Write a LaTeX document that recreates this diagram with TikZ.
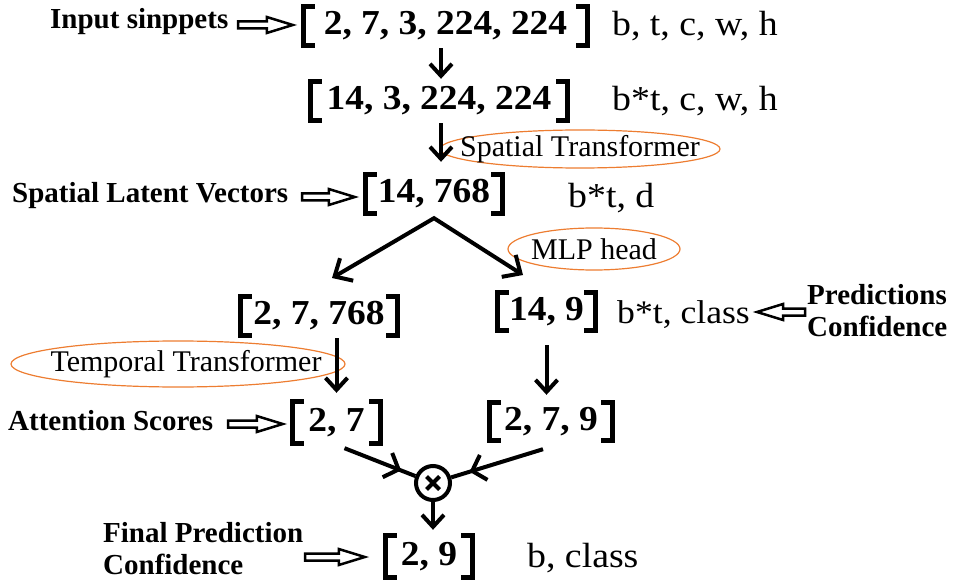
\documentclass[tikz,border=0pt]{standalone}
\usepackage{fontspec}
\setmainfont{Liberation Serif}
\newfontfamily\numfont{Liberation Serif}[FakeStretch=1.07]
\newfontfamily\dimfont{Liberation Serif}[FakeStretch=1.08]
\usetikzlibrary{arrows.meta,shapes.geometric,calc,decorations.markings}
\definecolor{ellc}{RGB}{237,125,49}
\newcommand\tensorbrk[1]{%
  \draw[brk] ([xshift=14pt,yshift=-2.5pt]#1.north west) -- ([xshift=2.5pt,yshift=-2.5pt]#1.north west)
     -- ([xshift=2.5pt,yshift=2.5pt]#1.south west) -- ([xshift=14pt,yshift=2.5pt]#1.south west);
  \draw[brk] ([xshift=-14pt,yshift=-2.5pt]#1.north east) -- ([xshift=-2.5pt,yshift=-2.5pt]#1.north east)
     -- ([xshift=-2.5pt,yshift=2.5pt]#1.south east) -- ([xshift=-14pt,yshift=2.5pt]#1.south east);}
\tikzset{
  tensor/.style={inner sep=0pt, font=\numfont\bfseries\fontsize{35}{38}\selectfont},
  dimtxt/.style={anchor=base west, inner sep=0pt, font=\dimfont\fontsize{35}{38}\selectfont},
  lbl/.style={inner sep=0pt, font=\bfseries\fontsize{29}{32}\selectfont, align=left},
  etxt/.style={inner sep=0pt, font=\fontsize{30}{33}\selectfont},
  ell/.style={ellipse, draw=ellc, line width=1.2pt, inner sep=0pt},
  brk/.style={line width=5pt, line cap=butt, line join=miter},
  arr/.style={line width=4pt, -{Straight Barb[length=12pt,width=22pt]}},
  fork/.style={line width=4pt, line join=miter, {Straight Barb[length=14pt,width=26pt]}-{Straight Barb[length=14pt,width=26pt]}},
  midarr/.style={line width=4pt, postaction={decorate},
    decoration={markings, mark=at position 0.8 with {\arrow{Straight Barb[length=12pt,width=26pt]}}}},
  hollow/.style={line width=2.5pt, line join=miter, to path={
    let \p1=(\tikztostart), \p2=(\tikztotarget), \n1={ifthenelse(\x2>\x1,1,-1)} in
    ({\x1},{\y1+3.5pt}) -- ({\x2-\n1*26pt},{\y1+3.5pt}) -- ({\x2-\n1*26pt},{\y1+8pt}) -- ({\x2},{\y1})
    -- ({\x2-\n1*26pt},{\y1-8pt}) -- ({\x2-\n1*26pt},{\y1-3.5pt}) -- ({\x1},{\y1-3.5pt}) -- cycle}}
}
\begin{document}
\begin{tikzpicture}[x=1pt,y=-1pt]
\useasboundingbox (0,0) rectangle (956,588);
% ellipses
\node[ell, minimum width=280pt, minimum height=38pt] (e1) at (580,149) {};
\node[etxt] (e1t) at (e1) {Spatial Transformer};
\node[ell, minimum width=172pt, minimum height=42pt] (e2) at (594,249) {};
\node[etxt] (e2t) at (e2) {MLP head};
\node[ell, minimum width=334pt, minimum height=46pt] (e3) at (178,364) {};
\node[etxt] (e3t) at (186,364) {Temporal Transformer};
% tensors
\node[tensor, minimum width=289pt, minimum height=44pt] (r1) at (445.5,26) {2, 7, 3, 224, 224};
\node[tensor, minimum width=262pt, minimum height=44pt] (r2) at (439,101) {14, 3, 224, 224};
\node[tensor, minimum width=142pt, minimum height=44pt] (r3) at (434,194) {14, 768};
\node[tensor, minimum width=162pt, minimum height=44pt] (r4a) at (319,316) {2, 7, 768};
\node[tensor, minimum width=103pt, minimum height=43pt] (r4b) at (546.5,311.5) {14, 9};
\node[tensor, minimum width=93pt, minimum height=47pt] (r5a) at (336.5,422.5) {2, 7};
\node[tensor, minimum width=128pt, minimum height=43pt] (r5b) at (551,421.5) {2, 7, 9};
\node[tensor, minimum width=92pt, minimum height=47pt] (r6) at (429,556.5) {2, 9};
\tensorbrk{r1}\tensorbrk{r2}\tensorbrk{r3}\tensorbrk{r4a}\tensorbrk{r4b}\tensorbrk{r5a}\tensorbrk{r5b}\tensorbrk{r6}
% dimension texts
\node[dimtxt] (d1) at (612,36) {b, t, c, w, h};
\node[dimtxt] (d2) at (612,111) {b*t, c, w, h};
\node[dimtxt] (d3) at (568,208) {b*t, d};
\node[dimtxt, font=\dimfont\fontsize{33}{36}\selectfont] (d4) at (617,323) {b*t, class};
\node[dimtxt] (d6) at (527,567) {b, class};
% labels
\node[lbl, anchor=base west] (l1) at (50,29) {Input sinppets};
\node[lbl, anchor=base west] (l3) at (12,203) {Spatial Latent Vectors};
\node[lbl, anchor=base west] (l5) at (8,430) {Attention Scores};
\node[lbl, anchor=west] (l4) at (807,311) {Predictions\\Confidence};
\node[lbl, anchor=west] (l6) at (103,549) {Final Prediction\\Confidence};
% hollow arrows
\coordinate (h1) at (238,25);
\coordinate (h3) at (302,197);
\coordinate (h4) at (805,312);
\coordinate (h5) at (228,424);
\coordinate (h6) at (305,557);
\draw[hollow] (h1) to ([xshift=-8pt]r1.west);
\draw[hollow] (h3) to ([xshift=-8pt]r3.west);
\draw[hollow] (h4) to ([xshift=7pt]d4.east |- h4);
\draw[hollow] (h5) to ([xshift=-7pt]r5a.west);
\draw[hollow] (h6) to ([xshift=-18pt]r6.west);
% black arrows
\coordinate (ax) at (441,0);
\draw[arr] (r1.south -| ax) -- (r2.north -| ax);
\draw[arr, shorten >=10pt] (r2.south -| ax) -- (r3.north -| ax);
\coordinate (t4a) at (332,278);
\coordinate (t4b) at (523,275);
\draw[fork] (t4a) -- ([yshift=-2pt]r3.south) -- (t4b);
\draw[arr, shorten >=6pt] (r4a.south -| r5a.north) -- (r5a.north);
\draw[arr, shorten <=12pt, shorten >=5pt] (r4b.south) -- (r4b.south |- r5b.north);
% product
\node[circle, draw, line width=4pt, minimum size=34pt, inner sep=0pt] (ot) at (433,483) {};
\draw[line width=4pt] ([shift={(-6.5pt,-6.5pt)}]ot.center) -- ([shift={(6.5pt,6.5pt)}]ot.center);
\draw[line width=4pt] ([shift={(-6.5pt,6.5pt)}]ot.center) -- ([shift={(6.5pt,-6.5pt)}]ot.center);
\draw[midarr] ([xshift=8pt,yshift=-2pt]r5a.south) -- (ot);
\draw[midarr] ([xshift=-8pt,yshift=-6pt]r5b.south) -- (ot);
\draw[arr, shorten >=3pt] (ot) -- (ot.south |- r6.north);
\end{tikzpicture}
\end{document}
